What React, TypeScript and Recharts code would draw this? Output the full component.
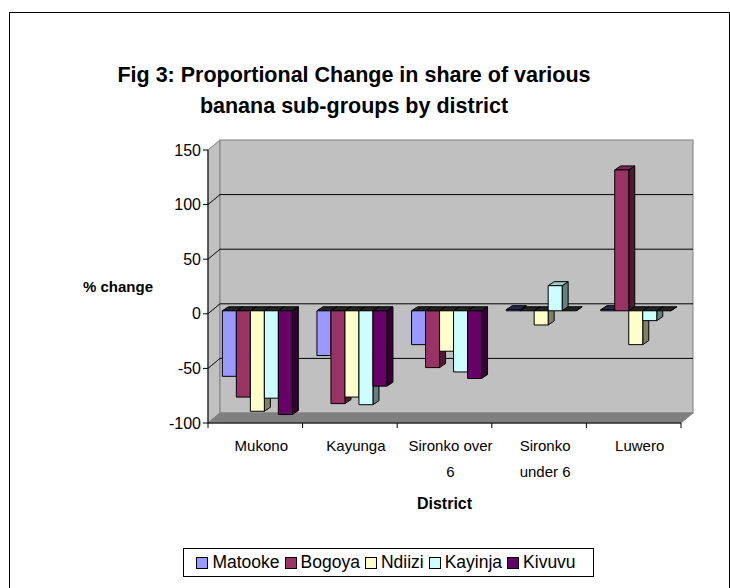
import React from "react";
import { BarChart, Bar, XAxis, YAxis, ReferenceArea } from "recharts";

// districts and the change per banana sub-group (%)
const districts = ["Mukono", "Kayunga", "Sironko over 6", "Sironko under 6", "Luwero"];
const districtLines = [["Mukono"], ["Kayunga"], ["Sironko over", "6"], ["Sironko", "under 6"], ["Luwero"]];
const matooke = [-60, -41, -31, 1, 1];
const bogoya = [-79, -85, -52, 0, 129];
const ndiizi = [-92, -79, -37, -13, -31];
const kayinja = [-80, -86, -56, 23, -9];
const kivuvu = [-95, -69, -62, 0, 0];
const yTicks = [-100, -50, 0, 50, 100, 150];

const series = [
  { key: "Matooke", color: "#9999FF", side: "#4d4d80", top: "#26264d" },
  { key: "Bogoya", color: "#993366", side: "#4d1a33", top: "#7a2952" },
  { key: "Ndiizi", color: "#FFFFCC", side: "#808066", top: "#4d4d3d" },
  { key: "Kayinja", color: "#CCFFFF", side: "#668080", top: "#99cccc" },
  { key: "Kivuvu", color: "#660066", side: "#330033", top: "#1a001a" },
];

const data = districts.map((d, i) => ({
  district: d,
  Matooke: matooke[i],
  Bogoya: bogoya[i],
  Ndiizi: ndiizi[i],
  Kayinja: kayinja[i],
  Kivuvu: kivuvu[i],
}));

const WALL_DX = 12;
const WALL_DY = -10;
const BAR_DX = 3;
const BAR_DY = -3;
const DEPTH_X = 6;
const DEPTH_Y = -4;

function Walls(props: any) {
  const { x, y, width, height } = props;
  const lo = yTicks[0];
  const hi = yTicks[yTicks.length - 1];
  const bottom = y + height;
  return (
    <g>
      <polygon
        points={`${x},${bottom} ${x},${y} ${x + WALL_DX},${y + WALL_DY} ${x + WALL_DX},${bottom + WALL_DY}`}
        fill="#c0c0c0"
        stroke="#808080"
      />
      <rect x={x + WALL_DX} y={y + WALL_DY} width={width} height={height} fill="#c0c0c0" stroke="#808080" />
      <polygon
        points={`${x},${bottom} ${x + WALL_DX},${bottom + WALL_DY} ${x + width + WALL_DX},${bottom + WALL_DY} ${x + width},${bottom}`}
        fill="#808080"
        stroke="#808080"
      />
      {yTicks.slice(1, -1).map((v) => {
        const py = y + ((hi - v) / (hi - lo)) * height;
        return (
          <polyline
            key={v}
            points={`${x},${py} ${x + WALL_DX},${py + WALL_DY} ${x + width + WALL_DX},${py + WALL_DY}`}
            fill="none"
            stroke="#000"
            strokeWidth={1}
          />
        );
      })}
    </g>
  );
}

function makeBox(s: (typeof series)[number]) {
  return (props: any) => {
    const { x, y, width, height, value } = props;
    const v = Array.isArray(value) ? value[1] - value[0] : value;
    const y0 = Math.min(y, y + height);
    const y1 = Math.max(y, y + height);
    const bx = x + BAR_DX;
    const top = y0 + BAR_DY;
    const bot = y1 + BAR_DY;
    const w = width;
    const topFill = v > 0 ? s.top : "#222";
    return (
      <g stroke="#000" strokeWidth={1} strokeLinejoin="round">
        <polygon
          points={`${bx + w},${top} ${bx + w + DEPTH_X},${top + DEPTH_Y} ${bx + w + DEPTH_X},${bot + DEPTH_Y} ${bx + w},${bot}`}
          fill={s.side}
        />
        <polygon
          points={`${bx},${top} ${bx + DEPTH_X},${top + DEPTH_Y} ${bx + w + DEPTH_X},${top + DEPTH_Y} ${bx + w},${top}`}
          fill={topFill}
        />
        {bot - top > 0.5 && <rect x={bx} y={top} width={w} height={bot - top} fill={s.color} />}
      </g>
    );
  };
}

function DistrictTick(props: any) {
  const { x, y, payload, index } = props;
  const half = payload && payload.offset ? payload.offset : 47.3;
  const lines = districtLines[index] || [String(payload.value)];
  return (
    <g>
      <line x1={x - half} y1={y - 5} x2={x - half} y2={y} stroke="#000" />
      {index === districts.length - 1 && (
        <line x1={x + half} y1={y - 5} x2={x + half} y2={y} stroke="#000" />
      )}
      {lines.map((t, i) => (
        <text key={i} x={x + 6} y={y + 23 + i * 26} textAnchor="middle" fontSize={15} fill="#000">
          {t}
        </text>
      ))}
    </g>
  );
}

export default function App() {
  return (
    <div
      style={{
        position: "absolute",
        left: 0,
        top: 0,
        width: 730,
        height: 588,
        background: "#fff",
        fontFamily: "'Liberation Sans', Arial, sans-serif",
        overflow: "hidden",
      }}
    >
      <div
        style={{
          position: "absolute",
          left: 9,
          top: 12,
          width: 719,
          height: 590,
          border: "1px solid #000",
        }}
      />
      <div
        style={{
          position: "absolute",
          left: 0,
          top: 60,
          width: 708,
          textAlign: "center",
          fontWeight: "bold",
          fontSize: 21.5,
          lineHeight: "31px",
          color: "#000",
        }}
      >
        Fig 3: Proportional Change in share of various
        <br />
        banana sub-groups by district
      </div>
      <BarChart
        width={730}
        height={588}
        data={data}
        margin={{ top: 150, right: 49, left: 148, bottom: 135 }}
        barGap={0}
        barCategoryGap="12%"
        style={{ position: "absolute", left: 0, top: 0 }}
      >
        <ReferenceArea y1={-100} y2={150} shape={<Walls />} />
        <XAxis
          dataKey="district"
          height={30}
          tick={<DistrictTick />}
          tickLine={false}
          tickSize={5}
          tickMargin={0}
          interval={0}
          axisLine={{ stroke: "#000" }}
          label={{ value: "District", position: "bottom", offset: 45, fontWeight: "bold", fontSize: 16, fill: "#000" }}
        />
        <YAxis
          width={60}
          domain={[-100, 150]}
          ticks={yTicks}
          interval={0}
          tickSize={5}
          tick={{ fontSize: 16, fill: "#000" }}
          tickLine={{ stroke: "#000" }}
          axisLine={{ stroke: "#000" }}
          label={{ value: "% change", position: "left", offset: -5, fontWeight: "bold", fontSize: 15, fill: "#000" }}
        />
        {series.map((s) => (
          <Bar key={s.key} dataKey={s.key} fill={s.color} isAnimationActive={false} shape={makeBox(s)} />
        ))}
      </BarChart>
      <div
        style={{
          position: "absolute",
          left: 183,
          top: 548,
          width: 411,
          height: 29,
          boxSizing: "border-box",
          display: "flex",
          alignItems: "center",
          justifyContent: "center",
          border: "1px solid #000",
          background: "#fff",
          fontSize: 17.5,
          color: "#000",
          whiteSpace: "nowrap",
        }}
      >
        {series.map((s) => (
          <span key={s.key} style={{ display: "inline-flex", alignItems: "center", marginRight: 5 }}>
            <span
              style={{
                display: "inline-block",
                width: 10,
                height: 10,
                background: s.color,
                border: "1px solid #000",
                marginRight: 4,
              }}
            />
            {s.key}
          </span>
        ))}
      </div>
    </div>
  );
}
